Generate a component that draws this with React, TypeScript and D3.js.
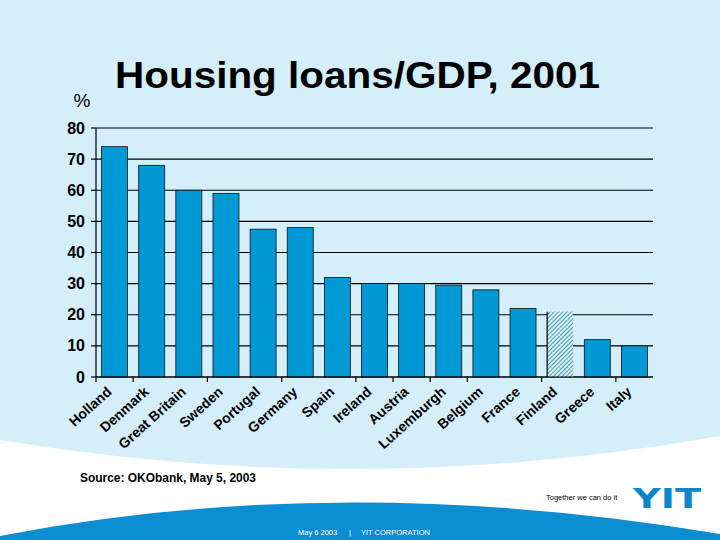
import * as d3 from "d3";

const countries = [
  "Holland", "Denmark", "Great Britain", "Sweden", "Portugal", "Germany", "Spain",
  "Ireland", "Austria", "Luxemburgh", "Belgium", "France", "Finland", "Greece", "Italy",
];
const loansToGdp = [74, 68, 60, 59, 47.5, 48, 32, 30, 30, 29.5, 28, 22, 21, 12, 10];
const hatched = ["Finland"];
const yTicks = [0, 10, 20, 30, 40, 50, 60, 70, 80];
// category boundaries that carry a tick mark in the original
const tickBoundaries = [0, 1, 3, 5, 7, 8, 9, 10, 12, 14];

const W = 720;
const H = 540;
const BG = "#D4EEFA";
const BAR = "#0099D5";
const FONT = "'Liberation Sans', Arial, sans-serif";

export default function App() {
  const x = d3
    .scaleBand<string>()
    .domain(countries)
    .range([96, 653])
    .paddingInner(0.3)
    .paddingOuter(0.15);
  const y = d3.scaleLinear().domain([0, 80]).range([377, 128]);
  const step = x.step();
  const x0 = 96;

  // background swoosh shapes
  const whiteBand = `M0,440 Q360,500 720,436 L720,${H} L0,${H} Z`;
  const blueBand = `M0,536 Q340,470 720,534 L720,${H} L0,${H} Z`;

  return (
    <svg
      width={W}
      height={H}
      style={{ position: "absolute", left: 0, top: 0, display: "block" }}
      fontFamily={FONT}
    >
      <defs>
        <pattern id="hatch" width="3" height="3" patternUnits="userSpaceOnUse" patternTransform="rotate(45)">
          <rect width="3" height="3" fill="#D9F0F5" />
          <line x1="0" y1="0" x2="0" y2="3" stroke="#2A8CA6" strokeWidth="1.7" />
        </pattern>
      </defs>
      <rect width={W} height={H} fill={BG} />
      <path d={whiteBand} fill="#FFFFFF" />
      <path d={blueBand} fill="#0B8DD2" />

      <text x={115} y={88} fontSize={36} fontWeight="bold" fill="#000" textLength={485} lengthAdjust="spacingAndGlyphs">
        Housing loans/GDP, 2001
      </text>
      <text x={82} y={107} textAnchor="middle" fontSize={19} fill="#000">
        %
      </text>

      {/* gridlines */}
      {yTicks.map((t) => (
        <line key={"g" + t} x1={x0} x2={653} y1={y(t)} y2={y(t)} stroke="#000" strokeWidth={1.2} />
      ))}

      {/* bars */}
      {countries.map((c, i) => (
        <rect
          key={c}
          x={x(c)}
          y={y(loansToGdp[i])}
          width={x.bandwidth()}
          height={y(0) - y(loansToGdp[i])}
          fill={hatched.includes(c) ? "url(#hatch)" : BAR}
          stroke={hatched.includes(c) ? "none" : "#111"}
          strokeWidth={0.8}
        />
      ))}
      {countries
        .filter((c) => hatched.includes(c))
        .map((c) => (
          <line key={"hl" + c} x1={x(c)} x2={x(c)} y1={y(loansToGdp[countries.indexOf(c)])} y2={y(0)} stroke="#000" strokeWidth={1.2} />
        ))}

      {/* y axis */}
      <line x1={x0} x2={x0} y1={y(0)} y2={y(80)} stroke="#000" strokeWidth={1.2} />
      {yTicks.map((t) => (
        <g key={"t" + t}>
          <line x1={x0 - 5} x2={x0} y1={y(t)} y2={y(t)} stroke="#000" strokeWidth={1.2} />
          <text x={85} y={y(t) + 5.5} textAnchor="end" fontSize={16} fontWeight="bold" fill="#000">
            {t}
          </text>
        </g>
      ))}

      {/* x axis */}
      <line x1={x0} x2={653} y1={y(0)} y2={y(0)} stroke="#000" strokeWidth={1.2} />
      {tickBoundaries.map((b) => (
        <line key={"xt" + b} x1={x0 + b * step} x2={x0 + b * step} y1={y(0)} y2={y(0) + 5} stroke="#000" strokeWidth={1.2} />
      ))}
      {countries.map((c) => {
        const cx = (x(c) as number) + x.bandwidth() / 2 - 2;
        const cy = 393;
        return (
          <text
            key={"l" + c}
            x={cx}
            y={cy}
            textAnchor="end"
            fontSize={14}
            fontWeight="bold"
            fill="#000"
            transform={`rotate(-42 ${cx} ${cy})`}
          >
            {c}
          </text>
        );
      })}

      <text x={80} y={482} fontSize={12.5} fontWeight="bold" fill="#000" textLength={176} lengthAdjust="spacingAndGlyphs">
        Source: OKObank, May 5, 2003
      </text>
      <text x={546} y={500} fontSize={7.5} fill="#000">
        Together we can do it
      </text>
      <text x={633} y={508} fontSize={27} fontWeight="900" fill="#0B86C8" fontFamily="'DejaVu Sans', sans-serif" textLength={68} lengthAdjust="spacingAndGlyphs">
        YIT
      </text>
      <g fontSize={7.5} fill="#FFFFFF">
        <text x={298} y={535}>May 6 2003</text>
        <text x={349} y={535}>|</text>
        <text x={361} y={535}>YIT CORPORATION</text>
      </g>
    </svg>
  );
}
